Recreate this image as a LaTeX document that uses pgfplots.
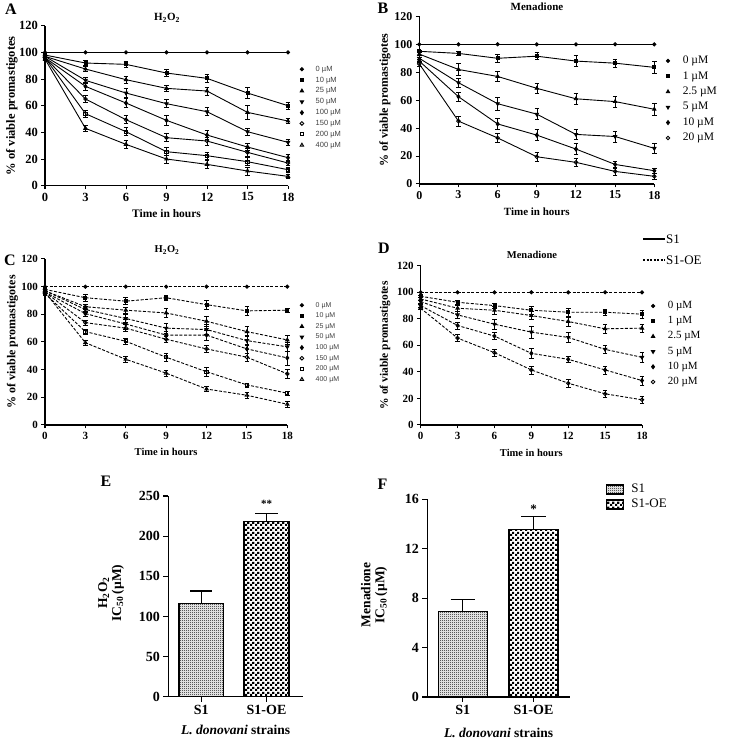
\documentclass[border=0pt]{standalone}
\usepackage{fontspec}
\setmainfont{Liberation Serif}
\setsansfont{Liberation Sans}
\usepackage{pgfplots}
\pgfplotsset{compat=1.18}
\usetikzlibrary{patterns}

\pgfdeclarepatternformonly{finecheck}{\pgfqpoint{0pt}{0pt}}{\pgfqpoint{2pt}{2pt}}{\pgfqpoint{2pt}{2pt}}{%
\pgfpathrectangle{\pgfqpoint{0pt}{0pt}}{\pgfqpoint{1pt}{1pt}}%
\pgfpathrectangle{\pgfqpoint{1pt}{1pt}}{\pgfqpoint{1pt}{1pt}}%
\pgfusepath{fill}}
\pgfdeclarepatternformonly{coarsecheck}{\pgfqpoint{0pt}{0pt}}{\pgfqpoint{5pt}{5pt}}{\pgfqpoint{5pt}{5pt}}{%
\pgfpathrectangle{\pgfqpoint{0pt}{0pt}}{\pgfqpoint{2.5pt}{2.5pt}}%
\pgfpathrectangle{\pgfqpoint{2.5pt}{2.5pt}}{\pgfqpoint{2.5pt}{2.5pt}}%
\pgfusepath{fill}}

\pgfplotsset{
 lp/.style={scale only axis, clip=false, axis lines*=left,
  axis line style={line width=1.1pt,-},
  xmin=0,xmax=18,ymin=0,ymax=120, xtick={0,3,...,18}, ytick={0,20,...,120},
  tick align=outside, major tick length=3.5pt, tick style={line width=1pt,black},
  /pgf/number format/assume math mode=true,
  xlabel={Time in hours}, ylabel={\% of viable promastigotes},
  legend style={draw=none, fill=none, inner sep=0pt, anchor=north west, cells={anchor=west}},
  legend image code/.code={\draw[#1] plot[only marks] coordinates {(0pt,0pt)};},
  mark options={solid},
 },
 bp/.style={scale only axis, clip=false, axis lines*=left,
  axis line style={line width=1.3pt,-},
  tick align=outside, major tick length=5pt, tick style={line width=1.2pt,black},
  /pgf/number format/assume math mode=true,
  tick label style={font=\bfseries\fontsize{14}{16}\selectfont},
  label style={font=\bfseries\fontsize{13.5}{14}\selectfont},
  xlabel={\textit{L. donovani} strains},
 },
 eb/.style={error bars/.cd, y dir=both, y explicit,
  error bar style={line width=0.6pt, solid},
  error mark options={rotate=90, line width=0.6pt, mark size=2.3pt, solid}},
 beb/.style={error bars/.cd, y dir=plus, y explicit,
  error bar style={line width=1.3pt},
  error mark options={rotate=90, line width=1.3pt, mark size=#1}},
 ln/.style={black, line width=0.9pt},
 dl/.style={black, line width=0.9pt, dash pattern=on 3pt off 1.6pt},
 m0/.style={mark=*, mark size=1.6pt},
 m1/.style={mark=square*, mark size=1.5pt},
 m2/.style={mark=triangle*, mark size=1.9pt},
 m3/.style={mark=triangle*, mark size=1.9pt, mark options={solid,rotate=180}},
 m4/.style={mark=diamond*, mark size=2pt},
 m5/.style={mark=o, mark size=1.8pt},
 m6/.style={mark=square, mark size=1.6pt},
 m7/.style={mark=triangle, mark size=2pt},
}

\begin{document}
\begin{tikzpicture}[x=1pt,y=1pt]
\useasboundingbox (0,0) rectangle (750,741);

% ---------------- Panel A ----------------
\begin{axis}[lp, at={(45pt,555.3pt)}, anchor=south west, width=243pt, height=160pt,
  tick label style={font=\bfseries\fontsize{12.5}{14}\selectfont},
  label style={font=\bfseries\fontsize{11.5}{13}\selectfont},
  xlabel style={at={(axis description cs:0.5,-0.1725)}, anchor=center},
  ylabel style={at={(axis description cs:-0.136,0.5)}, anchor=center, font=\bfseries\fontsize{12.5}{13}\selectfont},
  legend style={at={(axis description cs:1.049,0.751)}, font=\sffamily\fontsize{7.5}{8}\selectfont, text=black!75,
    row sep=3.85pt, nodes={inner sep=0pt, text height=5.5pt, text depth=1.5pt},
    /tikz/every odd column/.append style={column sep=12pt}},
  legend entries={0 µM,10 µM,25 µM,50 µM,100 µM,150 µM,200 µM,400 µM}]
\addplot[ln,m0] coordinates {(0,100)(3,100)(6,100)(9,100)(12,100)(15,100)(18,100)};
\addplot[ln,m1,eb] table[row sep=\\,y error index=2] {x y e\\ 0 98 1\\ 3 92 2\\ 6 91 2\\ 9 84.5 2.5\\ 12 80.5 3\\ 15 69.5 4\\ 18 60 2.5\\};
\addplot[ln,m2,eb] table[row sep=\\,y error index=2] {x y e\\ 0 97 1\\ 3 87.5 2\\ 6 79.5 2.5\\ 9 73 2.5\\ 12 71 3\\ 15 55 5\\ 18 48.5 2\\};
\addplot[ln,m3,eb] table[row sep=\\,y error index=2] {x y e\\ 0 97 1\\ 3 79 2.5\\ 6 69.5 3.5\\ 9 61.5 3\\ 12 55.5 3\\ 15 40.5 2.5\\ 18 32.5 2.5\\};
\addplot[ln,m4,eb] table[row sep=\\,y error index=2] {x y e\\ 0 96 1\\ 3 74.5 3\\ 6 62 3.5\\ 9 49 4\\ 12 38 3.5\\ 15 29 2.5\\ 18 21 2.5\\};
\addplot[ln,m5,eb] table[row sep=\\,y error index=2] {x y e\\ 0 96 1\\ 3 65 2.5\\ 6 49.5 3\\ 9 36 3\\ 12 33.5 3\\ 15 25 3\\ 18 17 2\\};
\addplot[ln,m6,eb] table[row sep=\\,y error index=2] {x y e\\ 0 96 1\\ 3 54 2.5\\ 6 40.5 3\\ 9 25.5 3\\ 12 22.5 2.5\\ 15 18 3\\ 18 12 2\\};
\addplot[ln,m7,eb] table[row sep=\\,y error index=2] {x y e\\ 0 95 1\\ 3 43 2.5\\ 6 31 3\\ 9 20 3\\ 12 16 3\\ 15 11 3\\ 18 7 1.5\\};
\end{axis}

% ---------------- Panel B ----------------
\begin{axis}[lp, at={(419.3pt,557pt)}, anchor=south west, width=235pt, height=167.6pt,
  tick label style={font=\bfseries\fontsize{12}{14}\selectfont},
  label style={font=\bfseries\fontsize{11}{13}\selectfont},
  xlabel style={at={(axis description cs:0.5,-0.165)}, anchor=center},
  ylabel style={at={(axis description cs:-0.146,0.5)}, anchor=center, font=\bfseries\fontsize{12}{13}\selectfont},
  legend style={at={(axis description cs:1.0498,0.765)}, font=\fontsize{11.5}{12}\selectfont,
    row sep=5.4pt, nodes={inner sep=0pt, text height=7.7pt, text depth=2.3pt},
    /tikz/every odd column/.append style={column sep=13pt}},
  legend entries={0 µM,1 µM,2.5 µM,5 µM,10 µM,20 µM}]
\addplot[ln,m0] coordinates {(0,100)(3,100)(6,100)(9,100)(12,100)(15,100)(18,100)};
\addplot[ln,m1,eb] table[row sep=\\,y error index=2] {x y e\\ 0 95 1\\ 3 93.5 1.5\\ 6 90 3\\ 9 91.5 2.5\\ 12 88 4\\ 15 86.5 3\\ 18 83.5 4.5\\};
\addplot[ln,m2,eb] table[row sep=\\,y error index=2] {x y e\\ 0 93 1\\ 3 82 4.5\\ 6 77 3.5\\ 9 68.5 3.5\\ 12 61 4\\ 15 59 4\\ 18 53.5 4.5\\};
\addplot[ln,m3,eb] table[row sep=\\,y error index=2] {x y e\\ 0 90 1\\ 3 72.5 3\\ 6 57.5 4.5\\ 9 50 4\\ 12 35.5 3.5\\ 15 34 4\\ 18 25.5 3.5\\};
\addplot[ln,m4,eb] table[row sep=\\,y error index=2] {x y e\\ 0 88 1\\ 3 62.5 3\\ 6 43 4\\ 9 35 4\\ 12 25 4\\ 15 14 2\\ 18 9.5 2\\};
\addplot[ln,m5,eb] table[row sep=\\,y error index=2] {x y e\\ 0 86 2\\ 3 45 3.5\\ 6 33 3.5\\ 9 19.5 3.5\\ 12 15.5 3\\ 15 9 2.5\\ 18 5.5 2\\};
\end{axis}

% ---------------- Panel C ----------------
\begin{axis}[lp, at={(45pt,316pt)}, anchor=south west, width=242.3pt, height=166pt,
  tick label style={font=\bfseries\fontsize{11}{12}\selectfont},
  label style={font=\bfseries\fontsize{10.5}{12}\selectfont},
  xlabel style={at={(axis description cs:0.5,-0.161)}, anchor=center},
  ylabel style={at={(axis description cs:-0.134,0.5)}, anchor=center, font=\bfseries\fontsize{12}{13}\selectfont},
  legend style={at={(axis description cs:1.052,0.742)}, font=\sffamily\fontsize{7}{8}\selectfont, text=black!75,
    row sep=4.2pt, nodes={inner sep=0pt, text height=5pt, text depth=1.4pt},
    /tikz/every odd column/.append style={column sep=12pt}},
  legend entries={0 µM,10 µM,25 µM,50 µM,100 µM,150 µM,200 µM,400 µM}]
\addplot[dl,m0] coordinates {(0,100)(3,100)(6,100)(9,100)(12,100)(15,100)(18,100)};
\addplot[dl,m1,eb] table[row sep=\\,y error index=2] {x y e\\ 0 98 1\\ 3 92 2.5\\ 6 89.5 2.5\\ 9 92 2\\ 12 87 3.5\\ 15 82.5 3\\ 18 83 1.5\\};
\addplot[dl,m2,eb] table[row sep=\\,y error index=2] {x y e\\ 0 97 1\\ 3 85.5 2\\ 6 83 2\\ 9 81 3.5\\ 12 75 3.5\\ 15 67.5 3.5\\ 18 61.5 3.5\\};
\addplot[dl,m3,eb] table[row sep=\\,y error index=2] {x y e\\ 0 97 1\\ 3 83.5 2\\ 6 77 3\\ 9 70 3.5\\ 12 69 3.5\\ 15 61 3.5\\ 18 56.5 3.5\\};
\addplot[dl,m4,eb] table[row sep=\\,y error index=2] {x y e\\ 0 96 1\\ 3 80.5 2\\ 6 73 3.5\\ 9 65 3\\ 12 65 3.5\\ 15 55 3.5\\ 18 48.5 5\\};
\addplot[dl,m5,eb] table[row sep=\\,y error index=2] {x y e\\ 0 96 1\\ 3 74 2\\ 6 70 2.5\\ 9 62 2\\ 12 55 2.5\\ 15 49 3\\ 18 37 3\\};
\addplot[dl,m6,eb] table[row sep=\\,y error index=2] {x y e\\ 0 95 1\\ 3 67.5 2\\ 6 60.5 2\\ 9 49 3\\ 12 38.5 3\\ 15 29 1.5\\ 18 23 1.5\\};
\addplot[dl,m7,eb] table[row sep=\\,y error index=2] {x y e\\ 0 96 1\\ 3 59.5 2\\ 6 47.5 2\\ 9 37.5 2\\ 12 26 2\\ 15 21.5 2\\ 18 15 2\\};
\end{axis}

% ---------------- Panel D ----------------
\begin{axis}[lp, at={(420.7pt,316pt)}, anchor=south west, width=221.3pt, height=159.2pt,
  tick label style={font=\bfseries\fontsize{11}{12}\selectfont},
  label style={font=\bfseries\fontsize{10.5}{12}\selectfont},
  xlabel style={at={(axis description cs:0.5,-0.174)}, anchor=center},
  ylabel style={at={(axis description cs:-0.161,0.5)}, anchor=center, font=\bfseries\fontsize{11.5}{13}\selectfont},
  legend style={at={(axis description cs:1.041,0.779)}, font=\fontsize{11}{12}\selectfont,
    row sep=5.6pt, nodes={inner sep=0pt, text height=7.4pt, text depth=2.2pt},
    /tikz/every odd column/.append style={column sep=13pt}},
  legend entries={0 µM,1 µM,2.5 µM,5 µM,10 µM,20 µM}]
\addplot[dl,m0] coordinates {(0,100)(3,100)(6,100)(9,100)(12,100)(15,100)(18,100)};
\addplot[dl,m1,eb] table[row sep=\\,y error index=2] {x y e\\ 0 97 1\\ 3 92.5 1.5\\ 6 90 2\\ 9 86.5 3\\ 12 85 3\\ 15 85 2\\ 18 83.5 3\\};
\addplot[dl,m2,eb] table[row sep=\\,y error index=2] {x y e\\ 0 95 1\\ 3 88 2.5\\ 6 86.5 3\\ 9 82.5 3\\ 12 78 3.5\\ 15 72.5 3.5\\ 18 73 3\\};
\addplot[dl,m3,eb] table[row sep=\\,y error index=2] {x y e\\ 0 93 1\\ 3 83 2.5\\ 6 76 3.5\\ 9 70 4.5\\ 12 66 3.5\\ 15 57 3\\ 18 51 3.5\\};
\addplot[dl,m4,eb] table[row sep=\\,y error index=2] {x y e\\ 0 90 1\\ 3 75 2.5\\ 6 67 2.5\\ 9 54 3.5\\ 12 49.5 2.5\\ 15 41.5 3\\ 18 33.5 3.5\\};
\addplot[dl,m5,eb] table[row sep=\\,y error index=2] {x y e\\ 0 88 1\\ 3 65.5 2.5\\ 6 54.5 2.5\\ 9 41.5 3\\ 12 31.5 3\\ 15 23.5 3\\ 18 19 3\\};
\end{axis}

% ---------------- Panel E ----------------
\begin{axis}[bp, at={(168.3pt,44.3pt)}, anchor=south west, width=134.7pt, height=200.7pt,
  xmin=0, xmax=134.7, ymin=0, ymax=250, ytick={0,50,...,250},
  xtick={33,98.2}, xticklabels={S1,S1-OE},
  xlabel style={at={(axis description cs:0.5,-0.166)}, anchor=center},
  ylabel={H\textsubscript{2}O\textsubscript{2}\\IC\textsubscript{50}\,(µM)},
  ylabel style={at={(axis description cs:-0.425,0.517)}, anchor=center, align=center}]
\addplot[ybar, bar width=44.5pt, bar shift=0pt, draw=black, line width=1.2pt, pattern=finecheck, beb=11pt]
  coordinates {(33,116.5) +- (0,15.2)};
\addplot[ybar, bar width=45pt, bar shift=0pt, draw=black, line width=1.2pt, pattern=coarsecheck, beb=11.5pt]
  coordinates {(98.2,218) +- (0,10.5)};
\node[font=\bfseries\fontsize{11}{12}\selectfont, anchor=south] at (axis cs:98.2,231) {**};
\end{axis}

% ---------------- Panel F ----------------
\begin{axis}[bp, at={(427.3pt,44pt)}, anchor=south west, width=142.7pt, height=197.7pt,
  xmin=0, xmax=142.7, ymin=0, ymax=16, ytick={0,4,...,16},
  xtick={35.4,106.2}, xticklabels={S1,S1-OE},
  xlabel style={at={(axis description cs:0.5,-0.182)}, anchor=center},
  ylabel={Menadione\\IC\textsubscript{50}\,(µM)},
  ylabel style={at={(axis description cs:-0.372,0.516)}, anchor=center, align=center},
  legend image code/.code={\draw[#1] (0pt,-4.5pt) rectangle (17pt,4.5pt);},
  legend style={at={(axis description cs:1.252,1.080)}, anchor=north west, draw=none, fill=none, inner sep=0pt,
    font=\fontsize{13}{14}\selectfont, row sep=3.5pt, cells={anchor=west},
    nodes={inner sep=0pt, text height=9pt, text depth=2.5pt},
    /tikz/every odd column/.append style={column sep=7pt}},
  legend entries={S1,S1-OE}]
\addplot[ybar, bar width=49pt, bar shift=0pt, draw=black, line width=1.2pt, pattern=finecheck, beb=12pt]
  coordinates {(35.4,6.95) +- (0,0.95)};
\addplot[ybar, bar width=49pt, bar shift=0pt, draw=black, line width=1.2pt, pattern=coarsecheck, beb=12.5pt]
  coordinates {(106.2,13.55) +- (0,1.05)};
\node[font=\bfseries\fontsize{13}{14}\selectfont, anchor=south] at (axis cs:106.2,14.6) {*};
\end{axis}

% ---------------- titles and letters ----------------
\node[font=\bfseries\fontsize{11}{12}\selectfont] at (167,723) {H\textsubscript{2}O\textsubscript{2}};
\node[font=\bfseries\fontsize{11}{12}\selectfont] at (537,734) {Menadione};
\node[font=\bfseries\fontsize{10.5}{12}\selectfont] at (167,491) {H\textsubscript{2}O\textsubscript{2}};
\node[font=\bfseries\fontsize{10.5}{12}\selectfont] at (532,486) {Menadione};
\node[font=\bfseries\fontsize{16}{17}\selectfont] at (11,732) {A};
\node[font=\bfseries\fontsize{16}{17}\selectfont] at (383,733) {B};
\node[font=\bfseries\fontsize{16}{17}\selectfont] at (10,481) {C};
\node[font=\bfseries\fontsize{16}{17}\selectfont] at (384,493) {D};
\node[font=\bfseries\fontsize{16}{17}\selectfont] at (106,260) {E};
\node[font=\bfseries\fontsize{16}{17}\selectfont] at (382.5,257) {F};

% S1 / S1-OE line key
\draw[line width=1.8pt] (643,502) -- (665,502);
\node[anchor=west, inner sep=0.5pt, font=\fontsize{13}{14}\selectfont] at (665.5,502) {S1};
\draw[line width=1.8pt, dash pattern=on 2pt off 1.5pt] (643,481) -- (665,481);
\node[anchor=west, inner sep=0.5pt, font=\fontsize{13}{14}\selectfont] at (665.5,481) {S1-OE};
\end{tikzpicture}
\end{document}
